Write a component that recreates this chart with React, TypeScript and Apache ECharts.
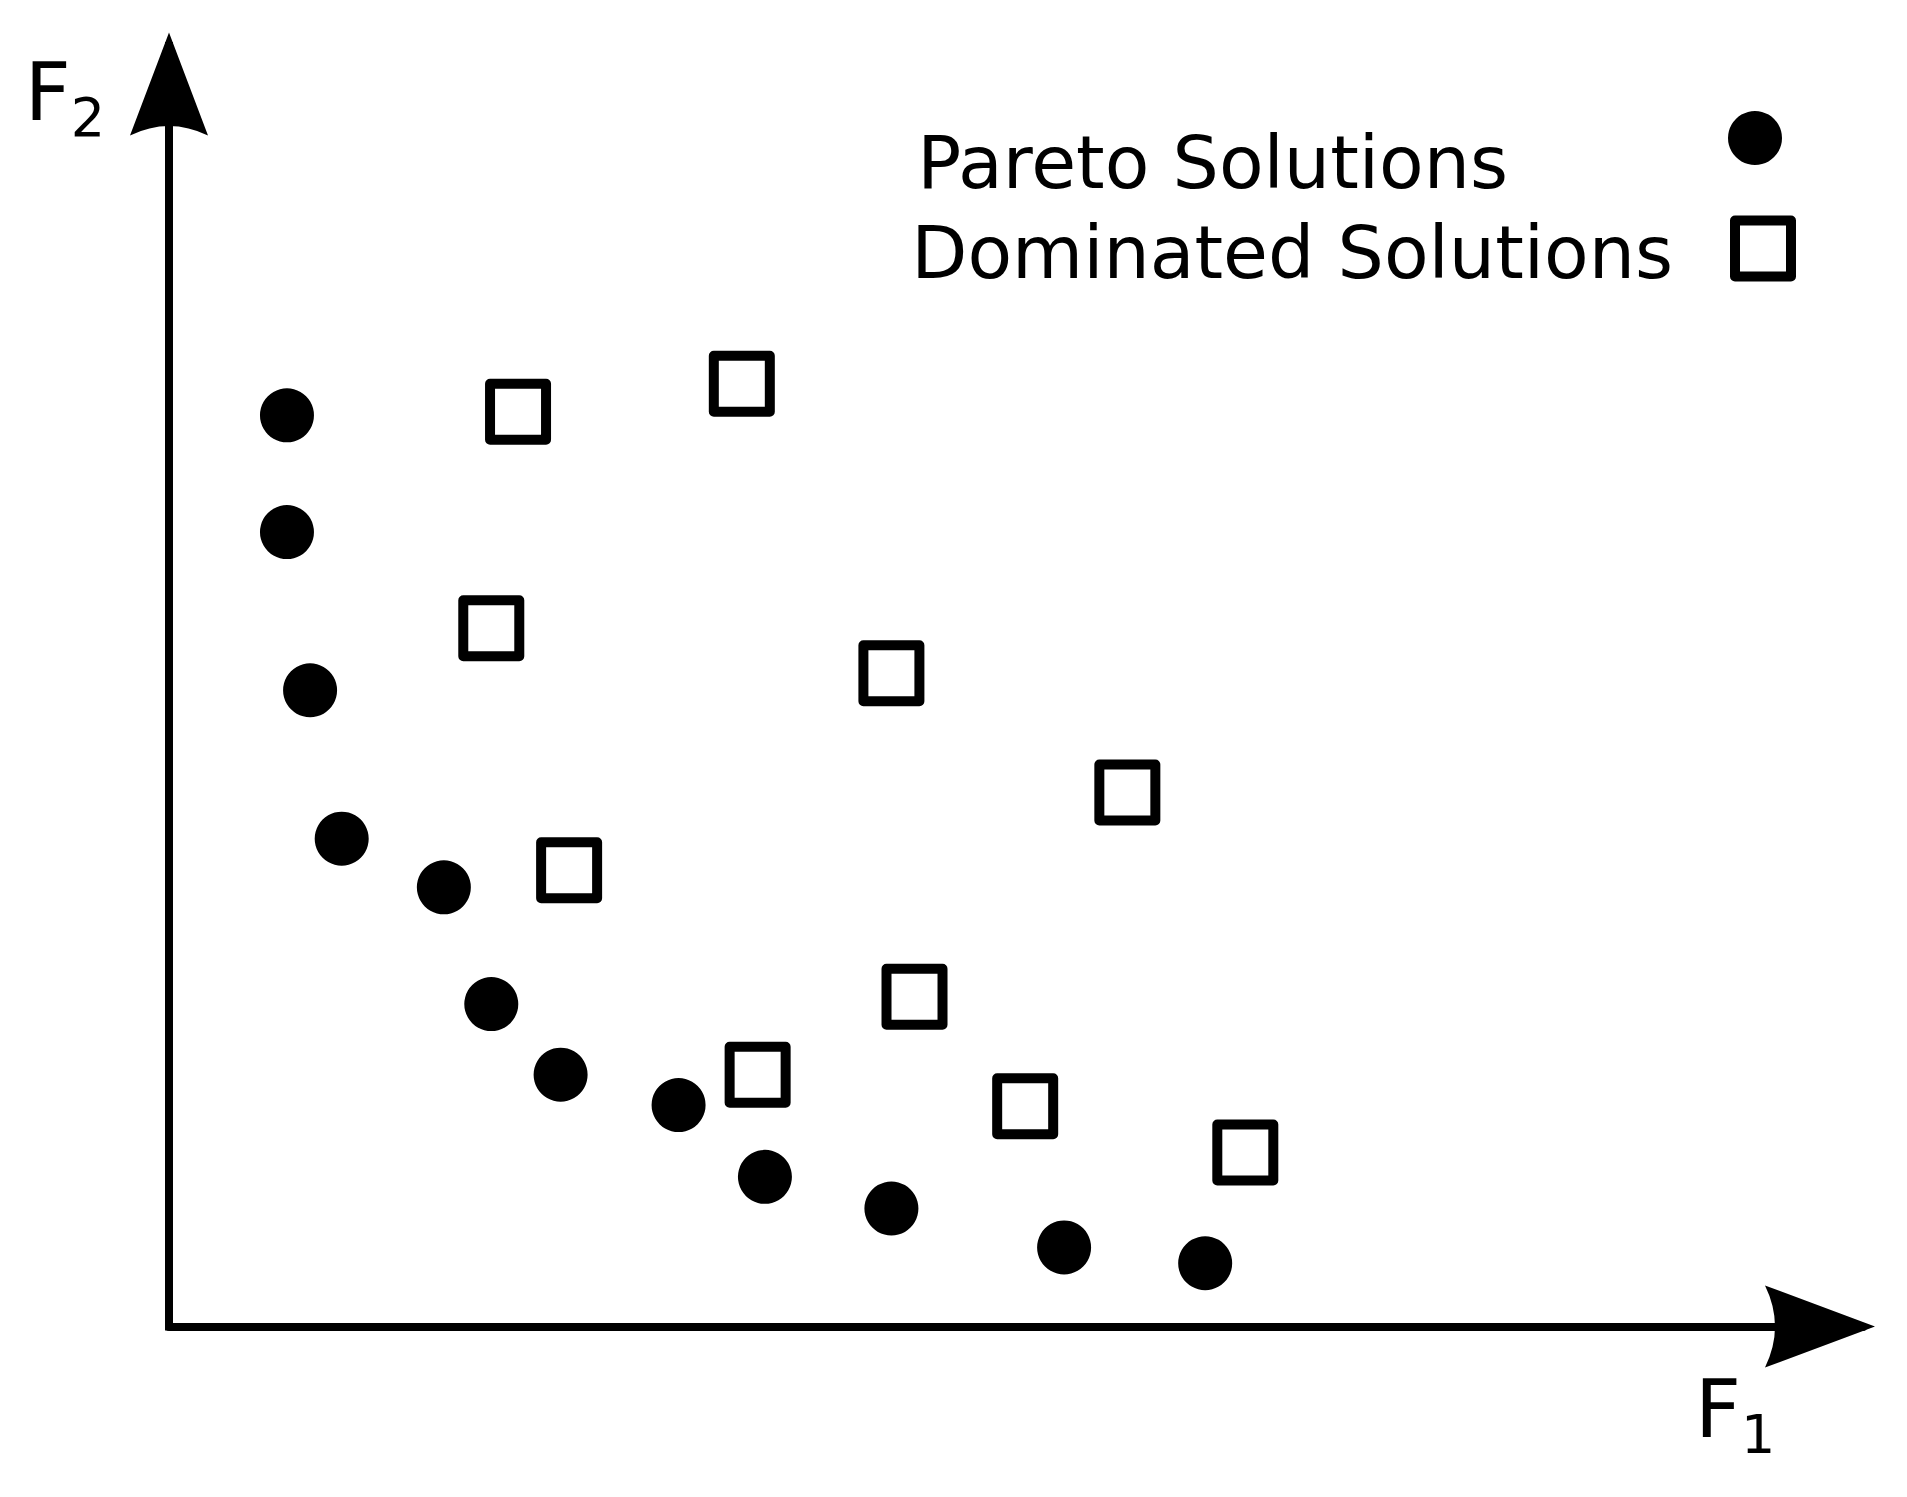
import React, { useEffect, useRef } from "react";
import * as echarts from "echarts";

// Data in arbitrary objective units (F1, F2)
const paretoF1 = [0.97, 0.97, 1.16, 1.42, 2.26, 2.65, 3.22, 4.19, 4.9, 5.94, 7.36, 8.52];
const paretoF2 = [7.49, 6.53, 5.23, 4.01, 3.61, 2.65, 2.07, 1.82, 1.23, 0.97, 0.65, 0.52];
const dominatedF1 = [2.87, 4.71, 2.65, 5.94, 7.88, 3.29, 6.13, 4.84, 7.04, 8.85];
const dominatedF2 = [7.52, 7.75, 5.74, 5.37, 4.39, 3.75, 2.71, 2.07, 1.81, 1.43];
const seriesNames = ["Pareto Solutions", "Dominated Solutions"];
const axisNames = ["F{s|1}", "F{s|2}"];

const ARROW_X = "path://M41,0 L82,110 Q41,90 0,110 Z";
const ARROW_Y = "path://M39,0 L78,103 Q39,84 0,103 Z";
const FONT = "DejaVu Sans";

export default function App() {
  const ref = useRef<HTMLDivElement>(null);
  useEffect(() => {
    if (!ref.current) return;
    const chart = echarts.init(ref.current, null, { renderer: "svg" });
    const pareto = paretoF1.map((x, i) => [x, paretoF2[i]]);
    const dominated = dominatedF1.map((x, i) => [x, dominatedF2[i]]);
    const nameRich = {
      s: { fontSize: 54, fontFamily: FONT, color: "#000", padding: [50, 0, 0, 0] },
    };
    const legendText = (pad: number[]) => ({
      fontSize: 73,
      fontFamily: FONT,
      color: "#000",
      rich: { t: { fontSize: 73, fontFamily: FONT, color: "#000", padding: pad } },
    });
    chart.setOption({
      animation: false,
      backgroundColor: "#fff",
      grid: { left: 169, top: 46, width: 1694, height: 1280.5 },
      xAxis: {
        type: "value",
        min: 0,
        max: 13.929,
        name: axisNames[0],
        nameLocation: "end",
        nameGap: -168,
        nameTextStyle: {
          fontSize: 80,
          fontFamily: FONT,
          color: "#000",
          align: "left",
          verticalAlign: "top",
          padding: [31, 0, 0, 0],
          rich: nameRich,
        },
        axisLine: {
          show: true,
          symbol: ["none", ARROW_X],
          symbolSize: [82, 110],
          symbolOffset: [0, -43],
          lineStyle: { color: "#000", width: 8 },
        },
        axisTick: { show: false },
        axisLabel: { show: false },
        splitLine: { show: false },
      },
      yAxis: {
        type: "value",
        min: 0,
        max: 10.526,
        name: axisNames[1],
        nameLocation: "end",
        nameGap: 6,
        nameTextStyle: {
          fontSize: 80,
          fontFamily: FONT,
          color: "#000",
          align: "right",
          verticalAlign: "top",
          padding: [0, 64, 0, 0],
          rich: nameRich,
        },
        axisLine: {
          show: true,
          symbol: ["none", ARROW_Y],
          symbolSize: [78, 103],
          symbolOffset: [0, -38],
          lineStyle: { color: "#000", width: 8, cap: "square" },
        },
        axisTick: { show: false },
        axisLabel: { show: false },
        splitLine: { show: false },
      },
      legend: [
        {
          data: [seriesNames[0]],
          orient: "vertical",
          align: "right",
          right: 125,
          top: 111,
          padding: 0,
          itemWidth: 54,
          itemHeight: 54,
          icon: "circle",
          itemStyle: { borderWidth: 0, color: "#000", opacity: 1 },
          formatter: (name: string) => `{t|${name}}`,
          textStyle: legendText([48, 215, 0, 0]),
          selectedMode: false,
        },
        {
          data: [seriesNames[1]],
          orient: "vertical",
          align: "right",
          right: 111,
          top: 215.5,
          padding: 0,
          itemWidth: 56,
          itemHeight: 56,
          icon: "rect",
          itemStyle: { borderWidth: 10, borderColor: "#000", color: "#fff", borderJoin: "round" },
          formatter: (name: string) => `{t|${name}}`,
          textStyle: legendText([8, 57, 0, 0]),
          selectedMode: false,
        },
      ],
      series: [
        {
          name: seriesNames[0],
          type: "scatter",
          data: pareto,
          symbol: "circle",
          symbolSize: 54,
          itemStyle: { color: "#000", opacity: 1 },
        },
        {
          name: seriesNames[1],
          type: "scatter",
          data: dominated,
          symbol: "rect",
          symbolSize: 56,
          itemStyle: { color: "#fff", borderColor: "#000", borderWidth: 10, borderJoin: "round", opacity: 1 },
        },
      ],
    });
    return () => chart.dispose();
  }, []);
  return (
    <div
      ref={ref}
      style={{ position: "fixed", left: 0, top: 0, width: 1907, height: 1497, background: "#fff" }}
    />
  );
}
